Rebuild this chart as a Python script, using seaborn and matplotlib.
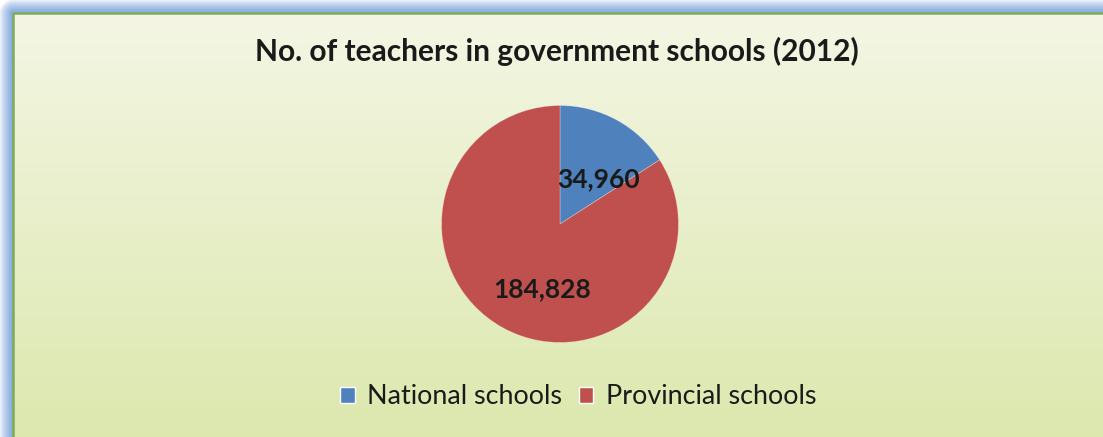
import numpy as np
import matplotlib
matplotlib.use("Agg")
import matplotlib.pyplot as plt
import seaborn as sns
from matplotlib.patches import Rectangle

# Data
categories = ["National schools", "Provincial schools"]
values = [34960, 184828]
title = "No. of teachers in government schools (2012)"
colors = ["#4f81bd", "#c0504d"]

sns.set_theme(style="white")
plt.rcParams['font.family'] = ['Lato', 'DejaVu Sans']

W, H = 1103, 437
fig = plt.figure(figsize=(W / 100, H / 100), dpi=100)

# Background: frame with blue glow and green gradient interior
bg = fig.add_axes([0, 0, 1, 1])
bg.set_xlim(0, W)
bg.set_ylim(H, 0)
bg.axis("off")
yy, xx = np.mgrid[0:H, 0:W].astype(float)
top = np.array([0xf4, 0xf6, 0xe4]) / 255
bot = np.array([0xdc, 0xe8, 0xae]) / 255
t = np.clip((yy - 13) / (H - 13), 0, 1)[..., None]
img = top * (1 - t) + bot * t
glow = np.array([0x8c, 0xae, 0xe0]) / 255
dx = np.clip(13 - xx, 0, None)
dy = np.clip(13 - yy, 0, None)
d = np.sqrt(dx ** 2 + dy ** 2)
outside = (xx < 13) | (yy < 13)
k = np.clip(1 - (d - 2) / 12.0, 0, 1) ** 0.7
gl = np.ones(3) * (1 - k[..., None]) + glow * k[..., None]
img[outside] = gl[outside]
bg.imshow(img, extent=(0, W, H, 0), aspect="auto", zorder=0)
bg.add_patch(Rectangle((13, 13), W + 20, H + 20, fill=False,
                       edgecolor="#7eab55", linewidth=1.8, zorder=1))

fig.text(557 / W, 1 - 51 / H, title, ha="center", va="center",
         fontsize=21.5, fontweight="bold", color="#1a1a1a")

# Pie
cx, cy, r = 560, 224, 118.5
ax = fig.add_axes([(cx - r) / W, (H - cy - r) / H, 2 * r / W, 2 * r / H])
ax.set_facecolor("none")
total = sum(values)
wedges, texts, autotexts = ax.pie(
    values, colors=colors, startangle=90, counterclock=False,
    autopct=lambda p: f"{p * total / 100:,.0f}", pctdistance=0.55,
    textprops=dict(fontsize=19, fontweight="bold", color="#1a1a1a"),
    wedgeprops=dict(linewidth=0.6, edgecolor=(1, 1, 1, 0.3)))
# nudge labels like the reference's best-fit placement
nudges = [(0.06, -0.10), (0.11, -0.07)]
for txt, (ox, oy) in zip(autotexts, nudges):
    x0, y0 = txt.get_position()
    txt.set_position((x0 + ox, y0 + oy))
ax.set_xlim(-1, 1)
ax.set_ylim(-1, 1)
ax.set_aspect("equal")

handles = [Rectangle((0, 0), 1, 1, facecolor=c) for c in colors]
fig.legend(handles, categories, loc="center", bbox_to_anchor=(578 / W, 1 - 397 / H),
           ncol=2, frameon=False, fontsize=19.4, handlelength=0.55, handleheight=0.55,
           handletextpad=0.45, columnspacing=0.62, labelcolor="#1a1a1a")

fig.savefig("out.png", dpi=100)
